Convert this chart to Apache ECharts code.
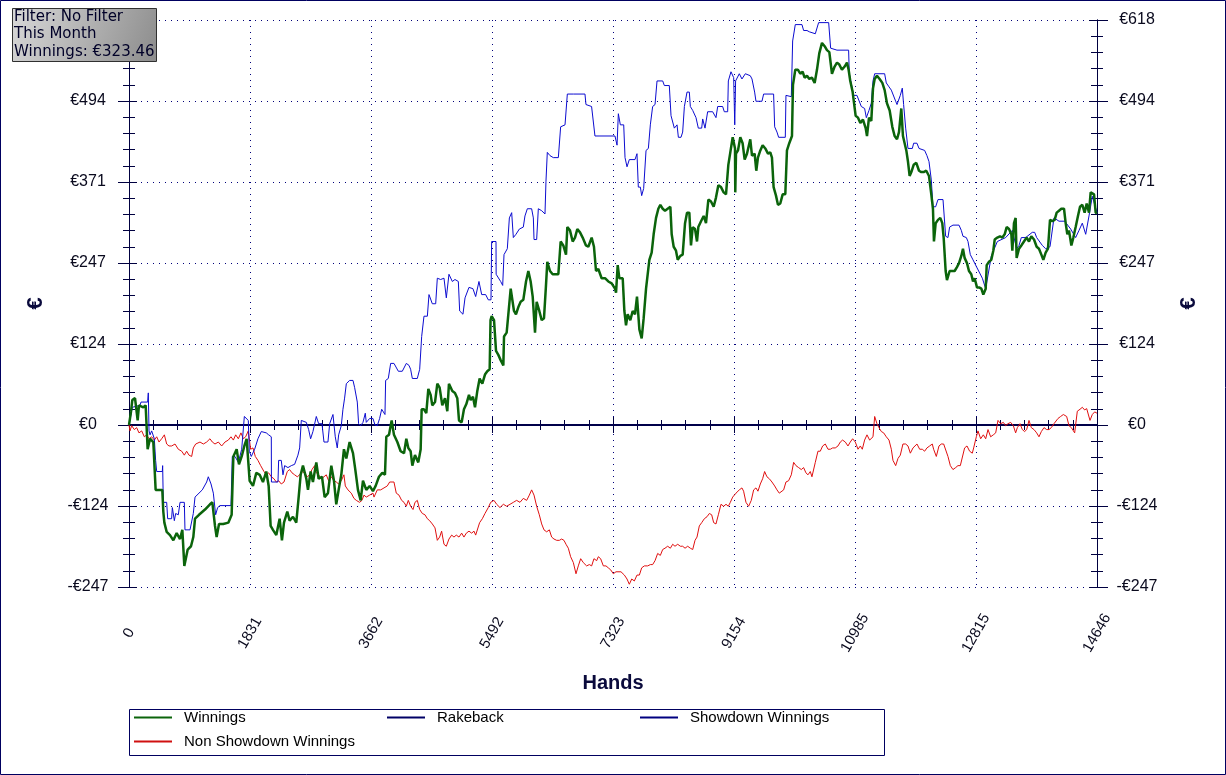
<!DOCTYPE html>
<html><head><meta charset="utf-8">
<script src="https://cdn.jsdelivr.net/npm/echarts@6/dist/echarts.min.js"></script>
<style>html,body{margin:0;padding:0;background:#fff}#c{width:1226px;height:775px}</style>
</head><body><div id="c"></div>
<script>
// ---- DATA ----
const totalHands = 14646;
const yTickStep = 123.6;
const seriesNames = ['Winnings','Rakeback','Showdown Winnings','Non Showdown Winnings'];

const winHands = [0,30,50,91,131,151,217,252,282,318,368,403,504,519,535,570,620,671,721,772,807,837,857,888,938,973,999,1059,1150,1225,1261,1301,1326,1362,1427,1503,1553,1579,1629,1664,1705,1745,1780,1800,1825,1876,1926,1977,2027,2077,2113,2143,2178,2229,2279,2314,2345,2395,2430,2481,2531,2567,2597,2632,2683,2708,2748,2783,2834,2869,2920,2960,3010,3061,3101,3136,3172,3212,3252,3288,3338,3389,3424,3464,3505,3540,3590,3641,3691,3732,3782,3833,3873,3893,3934,3974,4009,4060,4110,4161,4196,4226,4261,4287,4327,4377,4413,4428,4463,4498,4529,4564,4589,4630,4665,4700,4740,4781,4816,4841,4892,4932,4967,4993,5033,5068,5104,5144,5169,5204,5235,5270,5305,5346,5386,5421,5457,5470,5487,5523,5553,5588,5623,5664,5674,5714,5739,5775,5805,5825,5855,5891,5926,5966,6007,6042,6077,6108,6143,6168,6208,6244,6279,6309,6329,6370,6410,6445,6496,6531,6571,6612,6632,6672,6713,6748,6783,6824,6864,6914,6950,7000,7035,7066,7101,7151,7202,7252,7303,7353,7369,7394,7419,7470,7495,7520,7545,7585,7621,7656,7686,7722,7757,7787,7823,7848,7873,7908,7938,7974,8009,8039,8075,8110,8150,8191,8211,8241,8276,8302,8342,8377,8413,8443,8478,8503,8529,8564,8594,8614,8655,8695,8730,8766,8806,8846,8881,8917,8957,8997,9033,9068,9098,9134,9169,9173,9184,9214,9249,9284,9315,9350,9400,9426,9466,9491,9516,9552,9587,9627,9668,9703,9728,9753,9789,9819,9854,9890,9930,9955,9990,10031,10046,10081,10122,10157,10192,10222,10258,10293,10333,10374,10409,10444,10485,10525,10560,10596,10636,10676,10712,10747,10787,10828,10863,10888,10913,10949,10994,11030,11065,11105,11146,11166,11196,11231,11257,11282,11317,11357,11398,11433,11468,11509,11549,11584,11620,11650,11685,11710,11736,11761,11786,11811,11837,11872,11912,11953,11988,12023,12063,12104,12139,12164,12179,12205,12240,12275,12305,12326,12356,12376,12416,12457,12492,12527,12558,12593,12618,12643,12679,12709,12744,12770,12795,12830,12861,12896,12926,12962,12977,13012,13047,13077,13098,13138,13178,13214,13249,13279,13315,13350,13365,13390,13415,13430,13466,13501,13541,13582,13617,13652,13693,13733,13768,13804,13834,13869,13904,13935,13970,14005,14036,14071,14106,14147,14172,14197,14222,14258,14288,14323,14358,14389,14424,14459,14490,14525,14550,14575,14601,14626,14646];
const winVals = [0,20,38,41,7,30,27,30,-37,-21,-26,-99,-99,-132,-149,-163,-168,-176,-165,-174,-160,-215,-218,-190,-185,-171,-143,-137,-129,-121,-118,-154,-171,-151,-151,-149,-137,-48,-37,-60,-48,-32,-21,-21,-85,-93,-73,-76,-87,-71,-93,-154,-160,-168,-143,-176,-149,-132,-146,-140,-149,-110,-76,-62,-82,-99,-71,-87,-57,-82,-79,-110,-104,-62,-85,-121,-99,-76,-37,-51,-26,-43,-68,-99,-115,-85,-99,-93,-101,-93,-79,-73,-76,-18,-15,7,-15,-26,-40,-43,-21,-35,-40,-62,-46,-57,-37,24,24,18,55,46,30,35,63,57,30,41,21,63,52,49,41,7,4,24,32,46,38,43,27,52,71,63,77,82,85,160,166,160,113,107,99,91,135,141,144,208,210,174,169,180,188,191,219,235,219,196,141,188,174,160,163,213,249,235,230,230,230,280,274,260,302,297,280,286,299,294,286,274,272,286,272,235,238,224,224,219,216,208,202,244,224,224,174,152,169,160,174,169,196,146,132,163,208,210,252,263,291,316,330,336,330,327,330,333,291,272,266,252,258,260,308,324,324,274,302,299,280,302,311,319,308,344,341,333,347,366,363,355,352,397,416,439,422,355,414,419,439,430,405,414,436,411,414,388,408,419,427,422,414,416,408,363,350,336,338,352,352,419,430,441,519,542,542,536,539,530,533,528,530,522,542,567,583,578,572,569,536,547,553,550,542,547,553,542,525,508,472,469,461,466,453,441,469,464,514,528,533,528,522,511,491,480,455,441,436,447,483,441,444,419,402,380,386,397,400,388,386,386,388,380,352,330,280,308,313,316,308,286,235,221,235,235,235,241,247,258,269,255,247,235,230,219,224,210,210,208,199,208,244,249,252,266,283,286,288,286,291,302,299,291,266,308,316,255,269,274,280,286,280,288,283,272,269,260,252,263,269,313,311,313,324,327,330,330,308,291,297,274,286,302,319,333,336,324,338,324,355,358,352,324,323];

const sdHands = [0,50,65,166,182,282,292,303,318,343,368,383,403,419,504,509,519,570,585,645,656,686,706,746,772,837,847,923,973,999,1059,1109,1175,1200,1241,1276,1311,1341,1377,1452,1543,1563,1604,1654,1705,1745,1765,1805,1820,1850,1901,1951,2002,2027,2077,2113,2153,2155,2254,2264,2304,2330,2355,2405,2456,2506,2556,2582,2607,2632,2683,2718,2748,2783,2834,2869,2920,2950,3010,3036,3086,3121,3151,3172,3212,3237,3262,3288,3338,3389,3414,3454,3474,3505,3540,3575,3590,3641,3691,3722,3757,3792,3823,3873,3883,3923,3959,4009,4075,4135,4196,4236,4261,4287,4362,4398,4428,4463,4514,4539,4589,4640,4665,4715,4766,4801,4841,4892,4932,4983,5003,5053,5084,5144,5204,5245,5295,5336,5396,5436,5477,5487,5553,5555,5623,5654,5674,5724,5755,5790,5815,5855,5906,5966,5991,6027,6092,6118,6128,6168,6193,6244,6294,6309,6329,6370,6420,6496,6531,6597,6632,6723,6899,6914,6999,7050,7126,7353,7369,7384,7404,7434,7485,7505,7535,7570,7656,7686,7706,7737,7757,7787,7823,7858,7888,7923,7959,7989,8075,8100,8175,8201,8251,8292,8312,8352,8377,8403,8443,8478,8493,8529,8579,8614,8665,8680,8715,8755,8831,8881,8907,8982,9007,9058,9068,9108,9149,9160,9165,9178,9234,9274,9325,9400,9426,9466,9486,9577,9602,9753,9769,9789,9804,9829,9930,9940,10021,10041,10081,10182,10207,10258,10293,10384,10409,10434,10586,10606,10616,10712,10888,10898,10928,10964,11014,11030,11080,11130,11156,11196,11231,11257,11282,11433,11458,11499,11534,11559,11600,11620,11670,11700,11720,11751,11786,11852,11872,11922,11953,12038,12073,12104,12139,12164,12205,12240,12316,12356,12391,12416,12467,12558,12593,12618,12669,12694,12729,12770,12825,12911,12926,12962,12977,13047,13077,13138,13264,13289,13365,13390,13430,13466,13501,13567,13667,13703,13733,13753,13819,13869,13894,13935,13995,14071,14157,14172,14248,14273,14323,14348,14374,14424,14449,14475,14490,14525,14550,14575,14601,14646];
const sdVals = [0,27,30,30,35,35,49,-9,-15,-9,-9,-21,-54,-71,-71,-62,-118,-118,-143,-143,-126,-146,-135,-137,-118,-118,-160,-160,-135,-110,-104,-99,-87,-79,-90,-104,-137,-126,-123,-123,-123,-48,-48,-57,-37,13,16,7,-40,-48,-37,-21,-10,-7,-12,-15,-18,-87,-87,-54,-54,-76,-62,-65,-62,-60,-46,-35,7,10,4,-7,-21,-10,13,2,2,-26,-26,2,16,-18,-35,-15,-1,24,41,63,68,68,57,35,2,-1,4,18,4,10,10,0,-1,10,24,16,68,71,94,94,82,82,94,91,85,71,71,85,135,166,166,199,185,185,224,222,224,194,230,219,222,219,174,169,194,210,208,196,219,199,199,191,191,280,280,230,219,213,260,269,316,324,286,291,299,302,319,330,330,316,283,283,330,327,322,372,416,411,408,408,455,458,505,505,505,489,486,441,441,441,441,427,475,458,458,408,394,405,405,414,363,363,350,361,419,422,458,486,489,525,525,518,518,472,453,458,439,439,447,486,508,508,486,480,469,453,453,467,453,478,478,469,486,486,478,478,525,539,530,530,458,525,536,528,536,533,528,508,494,494,505,505,455,458,447,439,439,503,501,586,611,611,602,602,600,597,594,614,614,617,575,572,572,536,533,503,503,500,486,483,469,480,491,525,536,536,522,516,511,508,494,489,503,514,489,453,422,422,430,430,422,419,411,402,374,333,333,344,344,288,286,302,305,305,297,288,286,280,260,252,241,224,224,208,208,258,258,280,286,286,297,297,269,274,286,286,294,294,286,286,274,269,269,272,316,311,311,311,299,299,286,283,297,308,308,291,291,319,319,349,349,324,324];

const nsdHands = [0,15,40,81,116,151,192,232,267,303,343,383,419,454,494,535,570,605,646,696,746,797,837,872,908,948,973,1009,1039,1074,1125,1175,1225,1261,1301,1352,1402,1452,1503,1543,1579,1614,1654,1694,1730,1765,1805,1840,1876,1911,1951,1992,2042,2077,2113,2153,2193,2229,2264,2304,2345,2395,2430,2466,2506,2546,2582,2617,2657,2698,2733,2768,2809,2834,2869,2909,2950,2985,3020,3061,3101,3136,3172,3212,3252,3273,3313,3363,3404,3439,3489,3525,3555,3590,3641,3691,3707,3757,3808,3858,3908,3944,3974,4009,4044,4085,4125,4161,4196,4226,4261,4297,4327,4362,4398,4438,4478,4514,4549,4589,4630,4665,4700,4730,4766,4801,4841,4882,4917,4952,4993,5033,5068,5104,5144,5184,5220,5245,5270,5305,5346,5386,5436,5472,5522,5563,5613,5664,5714,5765,5815,5865,5916,5966,6017,6057,6092,6128,6168,6208,6244,6279,6319,6360,6395,6430,6471,6511,6546,6581,6612,6647,6682,6723,6763,6798,6834,6874,6924,6965,7000,7035,7076,7101,7136,7177,7217,7252,7288,7328,7368,7394,7444,7495,7535,7570,7606,7646,7686,7722,7757,7797,7848,7888,7923,7959,7999,8039,8075,8110,8150,8191,8226,8261,8302,8342,8377,8413,8453,8493,8529,8564,8594,8629,8665,8705,8745,8781,8816,8846,8881,8917,8957,8997,9033,9068,9098,9134,9184,9234,9274,9299,9335,9375,9400,9415,9451,9486,9516,9552,9587,9617,9652,9688,9728,9769,9804,9839,9869,9905,9940,9980,10021,10056,10091,10132,10172,10207,10242,10273,10308,10333,10359,10384,10424,10459,10495,10535,10576,10611,10646,10686,10727,10762,10797,10838,10878,10913,10949,10989,11014,11030,11065,11095,11130,11166,11206,11231,11257,11282,11317,11347,11383,11418,11458,11499,11534,11559,11600,11635,11670,11710,11751,11786,11822,11862,11887,11922,11963,12003,12038,12073,12114,12154,12174,12215,12255,12290,12326,12356,12391,12427,12467,12507,12542,12578,12608,12643,12679,12719,12759,12780,12820,12845,12886,12926,12962,12997,13037,13077,13113,13148,13188,13229,13264,13299,13340,13380,13415,13441,13481,13516,13551,13582,13617,13652,13693,13733,13768,13804,13844,13884,13920,13955,13995,14021,14056,14096,14137,14157,14187,14222,14258,14288,14308,14348,14389,14424,14459,14490,14510,14540,14575,14611,14646];
const nsdVals = [0,-9,-1,-7,-4,-12,-9,-18,-15,-21,-18,-23,-18,-26,-21,-15,-29,-32,-32,-29,-37,-40,-46,-40,-46,-48,-35,-29,-32,-26,-29,-26,-21,-26,-29,-26,-32,-26,-23,-18,-23,-15,-21,-12,-21,-18,-9,-37,-35,-48,-54,-62,-71,-76,-73,-79,-82,-87,-85,-90,-87,-71,-68,-73,-76,-79,-76,-71,-73,-79,-76,-68,-62,-73,-76,-82,-79,-76,-85,-79,-85,-87,-90,-85,-76,-93,-99,-104,-112,-115,-118,-115,-107,-110,-107,-104,-110,-99,-99,-96,-93,-87,-90,-87,-104,-107,-115,-118,-124,-115,-124,-129,-118,-115,-129,-135,-137,-143,-146,-151,-157,-176,-171,-162,-182,-185,-174,-168,-171,-168,-171,-165,-171,-165,-162,-165,-162,-168,-171,-149,-143,-135,-126,-118,-115,-121,-126,-121,-124,-121,-118,-115,-118,-112,-115,-107,-99,-107,-124,-137,-151,-160,-163,-160,-171,-174,-176,-176,-174,-176,-182,-188,-201,-210,-227,-215,-204,-210,-215,-213,-215,-204,-207,-201,-204,-215,-215,-218,-221,-227,-224,-227,-224,-229,-235,-243,-235,-238,-229,-229,-218,-215,-215,-213,-213,-207,-196,-199,-190,-188,-185,-188,-182,-185,-182,-185,-185,-188,-185,-188,-190,-176,-171,-154,-149,-143,-140,-135,-137,-149,-151,-137,-121,-124,-121,-124,-118,-110,-104,-99,-96,-101,-118,-124,-124,-115,-99,-96,-101,-90,-82,-71,-79,-82,-87,-93,-99,-104,-107,-99,-87,-85,-76,-57,-62,-65,-68,-65,-73,-76,-71,-79,-76,-57,-40,-40,-32,-29,-37,-37,-35,-35,-32,-26,-23,-26,-32,-26,-21,-26,-29,-37,-32,-37,-23,-15,-23,-26,-18,13,2,-4,-10,-12,-18,-23,-37,-54,-62,-51,-46,-29,-29,-32,-43,-35,-37,-29,-37,-37,-40,-35,-32,-29,-37,-48,-32,-29,-29,-32,-48,-62,-68,-65,-62,-62,-60,-35,-32,-40,-43,-35,-18,-9,-21,-15,-21,-7,-18,-15,-12,7,2,4,-1,2,4,-1,-12,-4,2,-7,-10,-7,7,-4,-7,-12,-18,-10,-4,-7,-7,-4,2,2,10,13,16,18,13,-1,-4,-7,-12,21,24,27,23,25,24,7,16,20,18,16];

const rbHands = [0, 14646];
const rbVals = [0, 0];

// ---- CHART ----
const zip = (h, v) => h.map((x, i) => [x, v[i]]);
const AX = '#000040';
const LBL = '#0a0a1e';
const FONT = 'Liberation Sans';
const yFmt = v => { const r = Math.round(Math.abs(v)); return (v < -0.001 ? '-€' : '€') + r; };
const yBase = {type:'value', min:-2*yTickStep, max:5*yTickStep, interval:yTickStep};
const xBase = {type:'value', min:0, max:totalHands, interval:totalHands/8};

const chart = echarts.init(document.getElementById('c'), null, {renderer:'canvas'});
const legendCommon = {icon:'rect', itemWidth:38, itemHeight:2, orient:'horizontal', padding:0,
  textStyle:{fontFamily:FONT, fontSize:15, color:'#000', padding:[0,0,0,7]}, selectedMode:false};

chart.setOption({
  backgroundColor:'#fff',
  animation:false,
  grid:{left:129, right:129, top:20, bottom:188},
  xAxis:[
    Object.assign({}, xBase, {position:'bottom',
      axisLine:{lineStyle:{color:AX, width:1}},
      axisTick:{inside:true, length:8, lineStyle:{color:AX}},
      minorTick:{show:true, splitNumber:5, length:5, lineStyle:{color:AX}},
      splitLine:{show:true, lineStyle:{color:'#00007a', type:[1,5], width:1}},
      axisLabel:{rotate:60, align:'center', verticalAlign:'middle', margin:46,
        fontFamily:FONT, fontSize:15, color:LBL, formatter:v=>String(Math.round(v))},
      name:'Hands', nameLocation:'middle', nameGap:86,
      nameTextStyle:{fontFamily:FONT, fontWeight:'bold', fontSize:20, color:'#0a0a3c'}}),
    Object.assign({}, xBase, {position:'top',
      axisLine:{lineStyle:{color:AX, width:1}},
      axisTick:{inside:true, length:8, lineStyle:{color:AX}},
      minorTick:{show:true, splitNumber:5, length:5, lineStyle:{color:AX}},
      splitLine:{show:false}, axisLabel:{show:false}})
  ],
  yAxis:[
    Object.assign({}, yBase, {position:'left',
      axisLine:{show:true, lineStyle:{color:AX}},
      axisTick:{show:true, inside:false, length:11, lineStyle:{color:AX}},
      minorTick:{show:true, splitNumber:5, length:6, lineStyle:{color:AX}},
      splitLine:{show:true, lineStyle:{color:'#00007a', type:[1,5], width:1}},
      axisLabel:{margin:41, align:'center', fontFamily:FONT, fontSize:16, color:LBL, formatter:yFmt},
      name:'€', nameLocation:'middle', nameGap:82, nameRotate:90,
      nameTextStyle:{fontFamily:FONT, fontWeight:'bold', fontSize:22, color:'#0a0a3c'}}),
    Object.assign({}, yBase, {position:'left',
      axisLine:{show:true, lineStyle:{color:AX}},
      axisTick:{show:true, inside:true, length:8, lineStyle:{color:AX}},
      minorTick:{show:true, splitNumber:5, length:6, lineStyle:{color:AX}},
      splitLine:{show:false}, axisLabel:{show:false}}),
    Object.assign({}, yBase, {position:'right',
      axisLine:{show:true, lineStyle:{color:AX}},
      axisTick:{show:true, inside:false, length:11, lineStyle:{color:AX}},
      minorTick:{show:true, splitNumber:5, length:6, lineStyle:{color:AX}},
      splitLine:{show:false},
      axisLabel:{margin:40, align:'center', fontFamily:FONT, fontSize:16, color:LBL, formatter:yFmt},
      name:'€', nameLocation:'middle', nameGap:81, nameRotate:90,
      nameTextStyle:{fontFamily:FONT, fontWeight:'bold', fontSize:22, color:'#0a0a3c'}}),
    Object.assign({}, yBase, {position:'right',
      axisLine:{show:true, lineStyle:{color:AX}},
      axisTick:{show:true, inside:true, length:8, lineStyle:{color:AX}},
      minorTick:{show:true, splitNumber:5, length:6, lineStyle:{color:AX}},
      splitLine:{show:false}, axisLabel:{show:false}})
  ],
  legend:[
    Object.assign({}, legendCommon, {left:134, top:710, data:[{name:seriesNames[0], itemStyle:{color:'#0b640b'}}]}),
    Object.assign({}, legendCommon, {left:387, top:710, data:[{name:seriesNames[1], itemStyle:{color:'#000066'}}]}),
    Object.assign({}, legendCommon, {left:640, top:710, data:[{name:seriesNames[2], itemStyle:{color:'#000080'}}]}),
    Object.assign({}, legendCommon, {left:134, top:734, data:[{name:seriesNames[3], itemStyle:{color:'#d01010'}}]})
  ],
  series:[
    {name:seriesNames[1], type:'line', data:zip(rbHands, rbVals), showSymbol:false, symbol:'none',
      lineStyle:{color:'#00004a', width:2}, itemStyle:{color:'#000066'}, z:2},
    {name:seriesNames[3], type:'line', data:zip(nsdHands, nsdVals), showSymbol:false, symbol:'none',
      lineStyle:{color:'#e01010', width:1}, itemStyle:{color:'#d01010'}, z:3},
    {name:seriesNames[2], type:'line', data:zip(sdHands, sdVals), showSymbol:false, symbol:'none',
      lineStyle:{color:'#0c0cd0', width:1}, itemStyle:{color:'#000080'}, z:4},
    {name:seriesNames[0], type:'line', data:zip(winHands, winVals), showSymbol:false, symbol:'none',
      lineStyle:{color:'#0b640b', width:2.5}, itemStyle:{color:'#0b640b'}, z:5}
  ],
  graphic:[
    {type:'rect', z:100, silent:true,
      shape:{x:0.5, y:0.5, width:1225, height:774},
      style:{fill:'none', stroke:'#000060', lineWidth:1}},
    {type:'rect', z:100, silent:true, shape:{x:129.5, y:709.5, width:755, height:46},
      style:{fill:'none', stroke:'#000060', lineWidth:1}},
    {type:'rect', z:200, zlevel:1, silent:true, shape:{x:12.5, y:8.5, width:144, height:53},
      style:{fill:new echarts.graphic.LinearGradient(0,0,1,1,[{offset:0,color:'#d8d8d8'},{offset:1,color:'#8c8c8c'}]),
        stroke:'#303030', lineWidth:1}},
    {type:'text', z:201, zlevel:1, silent:true, x:14, y:8, style:{text:'Filter: No Filter\nThis Month\nWinnings: €323.46',
      font:'15px "DejaVu Sans"', fill:'#000028', lineHeight:17.5}}
  ]
});
</script>
</body></html>
